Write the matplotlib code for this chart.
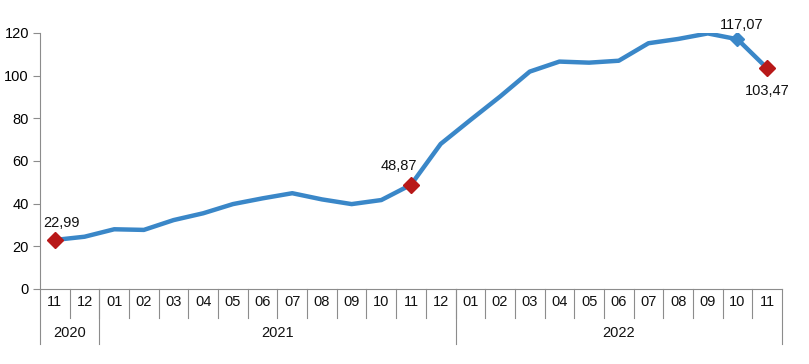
import matplotlib
matplotlib.use("Agg")
import matplotlib.pyplot as plt
import matplotlib.transforms as mtrans

plt.rcParams['font.family'] = ['Liberation Sans', 'DejaVu Sans']

months = ["11", "12", "01", "02", "03", "04", "05", "06", "07", "08", "09", "10", "11", "12",
          "01", "02", "03", "04", "05", "06", "07", "08", "09", "10", "11"]
years = ["2020", "2021", "2022"]
year_counts = [2, 12, 11]
values = [22.99, 24.5, 28.0, 27.7, 32.3, 35.5, 39.8, 42.5, 44.9, 42.0, 39.8, 41.7, 48.87,
          68.0, 79.2, 90.2, 101.9, 106.6, 106.1, 107.0, 115.2, 117.2, 119.8, 117.07, 103.47]
highlight_idx = [0, 12, 24]
highlight_labels = ["22,99", "48,87", "103,47"]
blue_idx = 23
blue_label = "117,07"

line_color = "#3A87C8"
red = "#B81818"
grey = "#8C8C8C"

fig = plt.figure(figsize=(8.09, 3.64), dpi=100)
ax = fig.add_axes([40/809, 1 - 289/364, (782-40)/809, (289-33)/364])

x = list(range(len(values)))
ax.plot(x, values, color=line_color, lw=3.2, solid_capstyle='round', zorder=3)
ax.plot([blue_idx], [values[blue_idx]], marker='D', ms=7, color=line_color, zorder=4)
ax.plot([x[i] for i in highlight_idx], [values[i] for i in highlight_idx], ls='none',
        marker='D', ms=8, color=red, zorder=5)

ax.set_xlim(-0.5, len(values) - 0.5)
ax.set_ylim(0, 120)
ax.set_yticks(range(0, 121, 20))
ax.tick_params(axis='y', length=5, color=grey, labelsize=10.5, pad=3, width=0.8)
ax.set_xticks([])
for s in ['top', 'right']:
    ax.spines[s].set_visible(False)
for s in ['left', 'bottom']:
    ax.spines[s].set_color(grey)
    ax.spines[s].set_linewidth(0.8)

# data labels
offs = {0: (7, 17), 12: (-12, 19), 24: (0, -23)}
for i, lab in zip(highlight_idx, highlight_labels):
    dx, dy = offs[i]
    ax.annotate(lab, (x[i], values[i]), xytext=(dx, dy), textcoords='offset pixels',
                ha='center', va='center', fontsize=10.5, color='#111111', annotation_clip=False)
ax.annotate(blue_label, (x[blue_idx], values[blue_idx]), xytext=(4, 14), textcoords='offset pixels',
            ha='center', va='center', fontsize=10.5, color='#111111', annotation_clip=False)

# category axis
trans = mtrans.blended_transform_factory(ax.transData, ax.transAxes)
ph = 1 / (289 - 33)  # axes fraction per pixel
month_bottom = -29 * ph
year_bottom = -55 * ph
for i, m in enumerate(months):
    ax.text(i, -13 * ph, m, transform=trans, ha='center', va='center', fontsize=10.5, color='#111111')
for k in range(len(months) - 1):
    ax.plot([k + 0.5, k + 0.5], [0, month_bottom], transform=trans, color=grey, lw=0.8, clip_on=False)
bounds = [-0.5]
for c in year_counts:
    bounds.append(bounds[-1] + c)
for b in bounds:
    ax.plot([b, b], [0, year_bottom], transform=trans, color=grey, lw=0.8, clip_on=False)
for y, a, b in zip(years, bounds[:-1], bounds[1:]):
    ax.text((a + b) / 2, -44 * ph, y, transform=trans, ha='center', va='center', fontsize=10.5, color='#111111')

fig.savefig("out.png", dpi=100)
